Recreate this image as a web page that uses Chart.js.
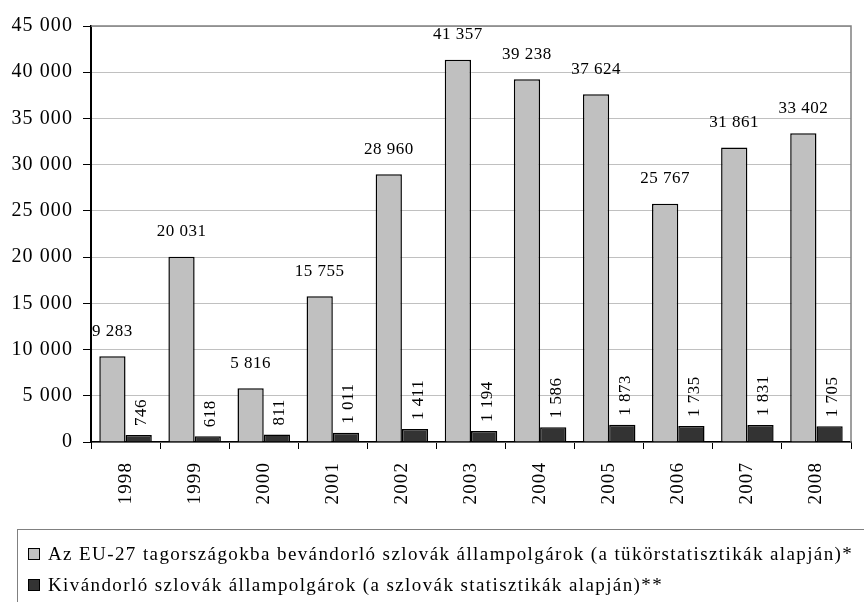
<!DOCTYPE html>
<html>
<head>
<meta charset="utf-8">
<script src="https://cdn.jsdelivr.net/npm/chart.js@4/dist/chart.umd.min.js"></script>
<style>
  html, body { margin: 0; padding: 0; background: #fff; }
  #wrap { position: relative; width: 864px; height: 602px; overflow: hidden; }
  #chart { position: absolute; left: 0; top: 0; }
  #legend {
    position: absolute; left: 17px; top: 529px; width: 900px; height: 100px;
    border: 1px solid #808080; box-sizing: border-box;
    font-family: "Liberation Serif", "Times New Roman", serif; font-size: 19px; color: #000;
    letter-spacing: 1.4px; padding-top: 8px;
  }
  .item { height: 31px; line-height: 31px; white-space: nowrap; display: flex; align-items: center; }
  .box { width: 10px; height: 10px; border: 1px solid #000; margin-left: 10px; margin-right: 8px; }
</style>
</head>
<body>
<div id="wrap">
  <canvas id="chart" width="864" height="530"></canvas>
  <div id="legend"></div>
</div>
<script>
const years = ["1998", "1999", "2000", "2001", "2002", "2003", "2004", "2005", "2006", "2007", "2008"];
const euImmigrants = [9283, 20031, 5816, 15755, 28960, 41357, 39238, 37624, 25767, 31861, 33402];
const emigrants = [746, 618, 811, 1011, 1411, 1194, 1586, 1873, 1735, 1831, 1705];
const seriesNames = [
  "Az EU-27 tagországokba bevándorló szlovák állampolgárok (a tükörstatisztikák alapján)*",
  "Kivándorló szlovák állampolgárok (a szlovák statisztikák alapján)**"
];
const colors = ["#c0c0c0", "#333333"];
const yMax = 45000;
const yStep = 5000;

const serif = "'Liberation Serif', 'Times New Roman', serif";
const fmt = v => String(v).replace(/\B(?=(\d{3})+(?!\d))/g, " ");

// the reference text is a bit wider than Liberation Serif, so spread it a little
const spacing = {
  id: "spacing",
  beforeDraw(chart) { chart.ctx.letterSpacing = "1.1px"; }
};

// value labels: horizontal above grey bars, rotated above dark bars
const barLabels = {
  id: "barLabels",
  afterDatasetsDraw(chart) {
    const ctx = chart.ctx;
    ctx.save();
    ctx.letterSpacing = "0.5px";
    ctx.fillStyle = "#000";
    ctx.font = "17px " + serif;
    chart.getDatasetMeta(0).data.forEach((el, i) => {
      ctx.textAlign = "center";
      ctx.textBaseline = "middle";
      ctx.fillText(fmt(euImmigrants[i]), el.x, el.y - 25);
    });
    chart.getDatasetMeta(1).data.forEach((el, i) => {
      ctx.save();
      ctx.translate(el.x + 3, el.y - 9);
      ctx.rotate(-Math.PI / 2);
      ctx.textAlign = "left";
      ctx.textBaseline = "middle";
      ctx.fillText(fmt(emigrants[i]), 0, 0);
      ctx.restore();
    });
    ctx.restore();
  }
};

// grey frame on top and right of the plot area
const plotFrame = {
  id: "plotFrame",
  afterDraw(chart) {
    const a = chart.chartArea, ctx = chart.ctx;
    ctx.save();
    ctx.strokeStyle = "#808080";
    ctx.lineWidth = 1.5;
    ctx.beginPath();
    ctx.moveTo(a.left, a.top);
    ctx.lineTo(a.right, a.top);
    ctx.lineTo(a.right, a.bottom);
    ctx.stroke();
    ctx.restore();
  }
};

new Chart(document.getElementById("chart"), {
  type: "bar",
  data: {
    labels: years,
    datasets: [
      { label: seriesNames[0], data: euImmigrants, backgroundColor: colors[0], borderColor: "#000", borderWidth: 1.5 },
      { label: seriesNames[1], data: emigrants, backgroundColor: colors[1], borderColor: "#000", borderWidth: 1.5 }
    ]
  },
  options: {
    responsive: false,
    animation: false,
    layout: { padding: { top: 26, right: 13, left: 0, bottom: 0 } },
    datasets: { bar: { categoryPercentage: 0.76, barPercentage: 1 } },
    plugins: { legend: { display: false }, tooltip: { enabled: false } },
    scales: {
      x: {
        grid: { offset: true, drawOnChartArea: false, color: "#000", tickLength: 7 },
        border: { color: "#000", width: 1.5 },
        ticks: { minRotation: 90, maxRotation: 90, color: "#000", font: { family: serif, size: 19 }, padding: 13 },
        afterFit: s => { s.height = 88; }
      },
      y: {
        min: 0,
        max: yMax,
        ticks: { stepSize: yStep, callback: v => fmt(v), color: "#000", font: { family: serif, size: 20 }, padding: 10 },
        grid: { color: "#c0c0c0", tickColor: "#000", tickLength: 8 },
        border: { color: "#000", width: 2 },
        afterFit: s => { s.width = 91; }
      }
    }
  },
  plugins: [spacing, barLabels, plotFrame]
});

const legend = document.getElementById("legend");
seriesNames.forEach((name, i) => {
  const row = document.createElement("div");
  row.className = "item";
  const box = document.createElement("span");
  box.className = "box";
  box.style.background = colors[i];
  const txt = document.createElement("span");
  txt.textContent = name;
  row.appendChild(box);
  row.appendChild(txt);
  legend.appendChild(row);
});
</script>
</body>
</html>
